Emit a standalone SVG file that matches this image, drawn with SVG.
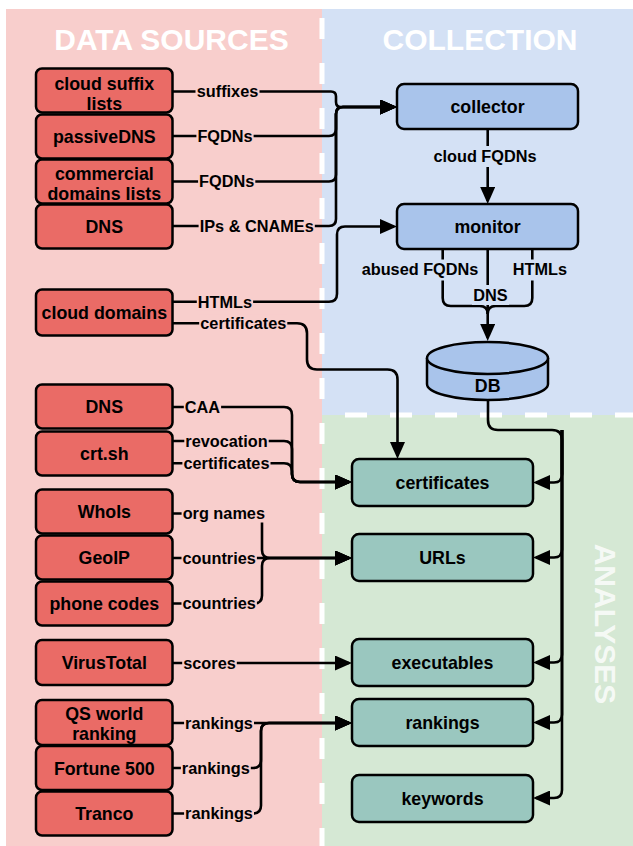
<svg xmlns="http://www.w3.org/2000/svg" width="633" height="846" viewBox="0 0 633 846">
<style>
text{font-family:"Liberation Sans",Arial,Helvetica,sans-serif;font-weight:bold;fill:#000}
.title{font-size:30px;fill:#fff;text-anchor:middle}
.nt{font-size:17.8px;text-anchor:middle}
.lt{font-size:16.3px;text-anchor:middle}
.src rect{fill:#ea6b66;stroke:#000;stroke-width:2.5}
.col rect,.col path,.col ellipse{fill:#a9c4eb;stroke:#000;stroke-width:2.5}
.ana rect{fill:#9ac7bf;stroke:#000;stroke-width:2.5}
.e{fill:none;stroke:#000;stroke-width:2.6}
.a{marker-end:url(#ah)}
.lp{fill:#f8cecc}
.lb{fill:#d4e1f5}
.dash{stroke:#fff;stroke-width:5;fill:none}
</style>
<defs>
<marker id="ah" viewBox="0 0 17 15" markerWidth="17" markerHeight="15" refX="14" refY="7.5" orient="auto" markerUnits="userSpaceOnUse"><path d="M0,0 L17,7.5 L0,15 z" fill="#000"/></marker>
</defs>
<g id="regions">
<rect x="6" y="9" width="316" height="837" fill="#f8cecc"/>
<rect x="322" y="9" width="311" height="406" fill="#d4e1f5"/>
<rect x="322" y="415" width="311" height="431" fill="#d5e8d4"/>
<line class="dash" x1="322" y1="18" x2="322" y2="846" stroke-dasharray="21 24"/>
<line class="dash" x1="345" y1="415" x2="633" y2="415" stroke-dasharray="22 23"/>
<text class="title" x="171.5" y="50">DATA SOURCES</text>
<text class="title" x="480" y="50">COLLECTION</text>
<text class="title" transform="translate(595,624) rotate(90)" x="0" y="0" fill-opacity="0.8" style="fill-opacity:0.8">ANALYSES</text>
</g>
<g id="connectors">
<path class="e a" d="M173,91.5 H331 q5,0 5,5 V102 q0,5 5,5 H394"/>
<path class="e a" d="M173,136 H329 q7,0 7,-7 V114 q0,-7 7,-7 H394"/>
<path class="e a" d="M173,181.5 H329 q7,0 7,-7 V114 q0,-7 7,-7 H394"/>
<path class="e a" d="M173,226 H329 q7,0 7,-7 V114 q0,-7 7,-7 H394"/>
<path class="e a" d="M173,301.7 H329 q8,0 8,-8 V234.5 q0,-8 8,-8 H394"/>
<path class="e a" d="M173,323.3 H297 q10,0 10,10 V359.5 q0,10 10,10 H387.5 q10,0 10,10 V456"/>
<path class="e a" d="M487.7,129 V201"/>
<path class="e" d="M442.7,249 V298 q0,8 8,8 H479.7 q8,0 8,8"/>
<path class="e" d="M532.3,249 V298 q0,8 -8,8 H495.7 q-8,0 -8,8"/>
<path class="e a" d="M487.7,249 V338"/>
<path class="e" d="M488,400 V420 q0,10 10,10 H552 q10,0 10,10 V474.5"/>
<path class="e a" d="M562,430 V474.5 q0,8 -8,8 H536"/>
<path class="e a" d="M562,430 V549.5 q0,8 -8,8 H536"/>
<path class="e a" d="M562,430 V654.5 q0,8 -8,8 H536"/>
<path class="e a" d="M562,430 V714.5 q0,8 -8,8 H536"/>
<path class="e a" d="M562,430 V790 q0,8 -8,8 H536"/>
<path class="e a" d="M173,407 H284 q8,0 8,8 V474 q0,8 8,8 H349"/>
<path class="e a" d="M173,441 H284 q8,0 8,8 V474 q0,8 8,8 H349"/>
<path class="e a" d="M173,463.3 H284 q8,0 8,8 V474 q0,8 8,8 H349"/>
<path class="e a" d="M173,513.5 H254 q8,0 8,8 V550 q0,8 8,8 H349"/>
<path class="e a" d="M173,558 H349"/>
<path class="e a" d="M173,603.5 H254 q8,0 8,-8 V566 q0,-8 8,-8 H349"/>
<path class="e a" d="M173,663 H349"/>
<path class="e a" d="M173,723 H349"/>
<path class="e a" d="M173,768 H253 q8,0 8,-8 V731 q0,-8 8,-8 H349"/>
<path class="e a" d="M173,813.5 H253 q8,0 8,-8 V731 q0,-8 8,-8 H349"/>
<g id="edge-labels">
<rect class="lp" x="195.5" y="82.5" width="64" height="18"/><text class="lt" x="227.5" y="97.3">suffixes</text>
<rect class="lp" x="196.4" y="127" width="57.2" height="18"/><text class="lt" x="225" y="141.8">FQDNs</text>
<rect class="lp" x="198.1" y="172.5" width="57.2" height="18"/><text class="lt" x="226.7" y="187.3">FQDNs</text>
<rect class="lp" x="198.6" y="217" width="116.2" height="18"/><text class="lt" x="256.7" y="231.8">IPs &amp; CNAMEs</text>
<rect class="lp" x="196.8" y="292.7" width="56.3" height="18"/><text class="lt" x="225" y="307.5">HTMLs</text>
<rect class="lp" x="199.2" y="314.3" width="88.1" height="18"/><text class="lt" x="243.3" y="329.1">certificates</text>
<rect class="lb" x="432" y="146" width="106" height="21"/><text class="lt" x="485" y="162">cloud FQDNs</text>
<rect class="lb" x="361" y="259.5" width="119" height="21"/><text class="lt" x="420" y="275">abused FQDNs</text>
<rect class="lb" x="512" y="259.5" width="57" height="21"/><text class="lt" x="540" y="275">HTMLs</text>
<rect class="lb" x="472" y="285" width="37" height="20"/><text class="lt" x="490.5" y="300.5">DNS</text>
<rect class="lp" x="183.8" y="398" width="37.3" height="18"/><text class="lt" x="202.5" y="412.8">CAA</text>
<rect class="lp" x="184.3" y="432" width="84.4" height="18"/><text class="lt" x="226.5" y="446.8">revocation</text>
<rect class="lp" x="182.4" y="454.3" width="88.1" height="18"/><text class="lt" x="226.5" y="469.1">certificates</text>
<rect class="lp" x="181.6" y="504.5" width="84.4" height="18"/><text class="lt" x="223.8" y="519.3">org names</text>
<rect class="lp" x="181.5" y="549" width="75.4" height="18"/><text class="lt" x="219.2" y="563.8">countries</text>
<rect class="lp" x="181.5" y="594.5" width="75.4" height="18"/><text class="lt" x="219.2" y="609.3">countries</text>
<rect class="lp" x="182.2" y="654" width="54.6" height="18"/><text class="lt" x="209.5" y="668.8">scores</text>
<rect class="lp" x="184.1" y="714" width="69.9" height="18"/><text class="lt" x="219" y="728.8">rankings</text>
<rect class="lp" x="180.9" y="759" width="69.9" height="18"/><text class="lt" x="215.8" y="773.8">rankings</text>
<rect class="lp" x="184.1" y="804.5" width="69.9" height="18"/><text class="lt" x="219" y="819.3">rankings</text>
</g>
</g>
<g id="src-cloud-suffix" class="src"><rect x="36" y="68.5" width="136.5" height="44" rx="6"/><text class="nt" x="104.3" y="89.5">cloud suffix</text><text class="nt" x="104.3" y="110">lists</text></g>
<g id="src-passivedns" class="src"><rect x="36" y="114.5" width="136.5" height="44" rx="6"/><text class="nt" x="104.3" y="143">passiveDNS</text></g>
<g id="src-commercial" class="src"><rect x="36" y="159.5" width="136.5" height="44" rx="6"/><text class="nt" x="104.3" y="180">commercial</text><text class="nt" x="104.3" y="199.5">domains lists</text></g>
<g id="src-dns" class="src"><rect x="36" y="204.5" width="136.5" height="44" rx="6"/><text class="nt" x="104.3" y="233">DNS</text></g>
<g id="src-cloud-domains" class="src"><rect x="36" y="289.5" width="136.5" height="46" rx="6"/><text class="nt" x="104.3" y="319">cloud domains</text></g>
<g id="src-dns2" class="src"><rect x="36" y="384.5" width="136.5" height="44" rx="6"/><text class="nt" x="104.3" y="413">DNS</text></g>
<g id="src-crtsh" class="src"><rect x="36" y="431.5" width="136.5" height="44" rx="6"/><text class="nt" x="104.3" y="460">crt.sh</text></g>
<g id="src-whois" class="src"><rect x="36" y="489.5" width="136.5" height="44" rx="6"/><text class="nt" x="104.3" y="518">WhoIs</text></g>
<g id="src-geoip" class="src"><rect x="36" y="535.5" width="136.5" height="44" rx="6"/><text class="nt" x="104.3" y="564">GeoIP</text></g>
<g id="src-phone" class="src"><rect x="36" y="581.5" width="136.5" height="44" rx="6"/><text class="nt" x="104.3" y="610">phone codes</text></g>
<g id="src-virustotal" class="src"><rect x="36" y="640" width="136.5" height="45" rx="6"/><text class="nt" x="104.3" y="669">VirusTotal</text></g>
<g id="src-qs" class="src"><rect x="36" y="700" width="136.5" height="45" rx="6"/><text class="nt" x="104.3" y="720">QS world</text><text class="nt" x="104.3" y="740">ranking</text></g>
<g id="src-fortune" class="src"><rect x="36" y="746" width="136.5" height="44" rx="6"/><text class="nt" x="104.3" y="774.5">Fortune 500</text></g>
<g id="src-tranco" class="src"><rect x="36" y="791.5" width="136.5" height="44" rx="6"/><text class="nt" x="104.3" y="820">Tranco</text></g>
<g id="collector" class="col"><rect x="397" y="84" width="181" height="45" rx="7"/><text class="nt" x="487.5" y="113">collector</text></g>
<g id="monitor" class="col"><rect x="397" y="204" width="181" height="45" rx="7"/><text class="nt" x="487.5" y="233">monitor</text></g>
<g id="db" class="col"><path d="M427,358 V384 A60.5,16 0 0 0 548,384 V358"/><ellipse cx="487.5" cy="358" rx="60.5" ry="16"/><text class="nt" x="487.7" y="392">DB</text></g>
<g id="ana-certificates" class="ana"><rect x="352" y="459" width="181" height="47" rx="7"/><text class="nt" x="442.5" y="489">certificates</text></g>
<g id="ana-urls" class="ana"><rect x="352" y="534" width="181" height="47" rx="7"/><text class="nt" x="442.5" y="564">URLs</text></g>
<g id="ana-executables" class="ana"><rect x="352" y="639" width="181" height="47" rx="7"/><text class="nt" x="442.5" y="669">executables</text></g>
<g id="ana-rankings" class="ana"><rect x="352" y="699" width="181" height="47" rx="7"/><text class="nt" x="442.5" y="729">rankings</text></g>
<g id="ana-keywords" class="ana"><rect x="352" y="775" width="181" height="47" rx="7"/><text class="nt" x="442.5" y="805">keywords</text></g>
</svg>
